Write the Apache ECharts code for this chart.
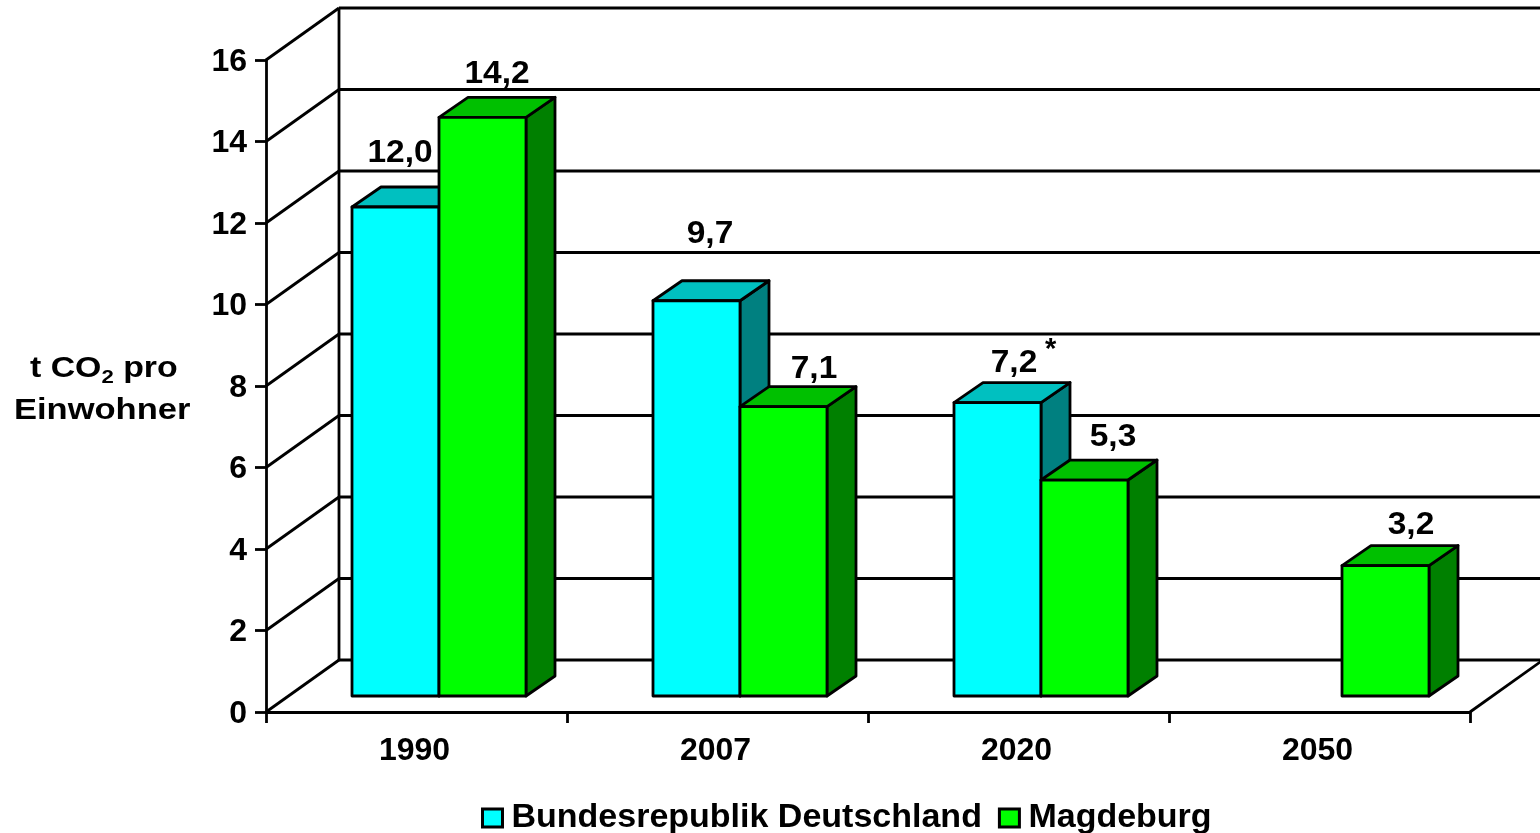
<!DOCTYPE html>
<html>
<head>
<meta charset="utf-8">
<style>html,body{margin:0;padding:0;background:#fff}#chart{width:1540px;height:833px}</style>
<script src="https://cdn.jsdelivr.net/npm/echarts@6/dist/echarts.min.js"></script>
</head>
<body>
<div id="chart"></div>
<script>
const years = ["1990", "2007", "2020", "2050"];
const deutschland = [12.0, 9.7, 7.2, null];
const magdeburg = [14.2, 7.1, 5.3, 3.2];
const yTicks = [0, 2, 4, 6, 8, 10, 12, 14, 16];
const deLabels = ["12,0", "9,7", "7,2", ""];
const mdLabels = ["14,2", "7,1", "5,3", "3,2"];

const font = "'Liberation Sans', Arial, sans-serif";
// depth of the fake 3d box, wall is 73/52 behind the axis plane
const wallX = 73, wallY = 52;
const barShiftX = 22.5, barShiftY = 16;
const sideX = 29, sideY = 20;
const barW = 87;
const stroke = 2.8;
// labels were placed by hand in the original, offset from bar's top left corner
const deNudge = [[48, -54], [57, -66], [60, -39], [0, 0]];
const mdNudge = [[58, -43], [74, -37], [72, -43], [69, -40]];

const chart = echarts.init(document.getElementById("chart"));

function wallItem(params, api) {
  const v = api.value(0);
  const p0 = api.coord([0, v]);
  const band = api.size([1, 0])[0];
  const left = p0[0] - band / 2;
  const right = left + band * years.length;
  const y = p0[1];
  const line = { stroke: "#000", lineWidth: stroke };
  const kids = [
    { type: "line", shape: { x1: left, y1: y, x2: left + wallX, y2: y - wallY }, style: line },
    { type: "line", shape: { x1: left + wallX, y1: y - wallY, x2: right + wallX, y2: y - wallY }, style: line }
  ];
  if (v === 0) {
    kids.push({ type: "line", shape: { x1: right, y1: y, x2: right + wallX, y2: y - wallY }, style: line });
  }
  if (v === 16) {
    kids.push({ type: "line", shape: { x1: left + wallX, y1: y - wallY, x2: left + wallX, y2: api.coord([0, 0])[1] - wallY }, style: line });
  }
  return { type: "group", children: kids };
}

// side: 0 = left bar of the pair, 1 = right bar
function barRenderer(side, front, top, right) {
  return function (params, api) {
    const val = api.value(1);
    if (val == null || isNaN(val)) return null;
    const c = api.coord([api.value(0), val]);
    const base = api.coord([api.value(0), 0])[1] - barShiftY;
    const x0 = c[0] + barShiftX - (side === 0 ? barW : 0);
    const x1 = x0 + barW;
    const y0 = c[1] - barShiftY;
    const edge = { stroke: "#000", lineWidth: stroke, lineJoin: "round" };
    return {
      type: "group",
      children: [
        { type: "polygon", shape: { points: [[x1, y0], [x1 + sideX, y0 - sideY], [x1 + sideX, base - sideY], [x1, base]] }, style: { fill: right, ...edge } },
        { type: "polygon", shape: { points: [[x0, y0], [x0 + sideX, y0 - sideY], [x1 + sideX, y0 - sideY], [x1, y0]] }, style: { fill: top, ...edge } },
        { type: "rect", shape: { x: x0, y: y0, width: barW, height: base - y0 }, style: { fill: front, ...edge } }
      ]
    };
  };
}

function labelRenderer(side, texts, nudge) {
  return function (params, api) {
    const idx = api.value(0);
    const val = api.value(1);
    if (val == null || isNaN(val) || !texts[idx]) return null;
    const c = api.coord([idx, val]);
    const x0 = c[0] + barShiftX - (side === 0 ? barW : 0);
    return {
      type: "text",
      x: x0 + nudge[idx][0],
      y: c[1] - barShiftY + nudge[idx][1],
      scaleX: 1.08,
      style: { text: texts[idx], font: "bold 31px " + font, fill: "#000", align: "center", verticalAlign: "middle" }
    };
  };
}

const idxData = arr => arr.map((v, i) => [i, v]);

chart.setOption({
  animation: false,
  grid: { left: 266, right: 70, top: 60, bottom: 121 },
  xAxis: {
    type: "category",
    data: years,
    axisLine: { lineStyle: { color: "#000", width: stroke } },
    axisTick: { show: true, alignWithLabel: false, length: 11, lineStyle: { color: "#000", width: stroke } },
    axisLabel: { color: "#000", fontFamily: font, fontWeight: "bold", fontSize: 32, margin: 23, padding: [0, 4, 0, 0] },
    splitLine: { show: false }
  },
  yAxis: {
    type: "value",
    min: 0,
    max: 16,
    interval: 2,
    axisLine: { show: true, lineStyle: { color: "#000", width: stroke } },
    axisTick: { show: true, length: 11, lineStyle: { color: "#000", width: stroke } },
    axisLabel: { color: "#000", fontFamily: font, fontWeight: "bold", fontSize: 32, margin: 19, verticalAlign: "top", padding: [-14, 0, 0, 0] },
    splitLine: { show: false }
  },
  legend: {
    top: 796,
    left: 476,
    itemWidth: 20,
    itemHeight: 18,
    itemGap: 16,
    textStyle: { color: "#000", fontFamily: font, fontWeight: "bold", fontSize: 34, padding: [0, 0, 0, 4] },
    data: [
      { name: "Bundesrepublik Deutschland", icon: "rect", itemStyle: { color: "#00ffff", borderColor: "#000", borderWidth: 3 } },
      { name: "Magdeburg", icon: "rect", itemStyle: { color: "#00ff00", borderColor: "#000", borderWidth: 3 } }
    ]
  },
  graphic: [
    {
      type: "text", x: 30, y: 350, scaleX: 1.167,
      style: {
        text: "t CO{sub|2} pro",
        font: "bold 29px " + font, fill: "#000",
        rich: { sub: { font: "bold 19px " + font, fill: "#000", verticalAlign: "bottom", padding: [18, 0, 0, 0] } }
      }
    },
    { type: "text", x: 14, y: 396, scaleX: 1.19, style: { text: "Einwohner", font: "bold 29px " + font, fill: "#000" } },
    { type: "text", x: 1045, y: 335, style: { text: "*", font: "bold 29px " + font, fill: "#000" } }
  ],
  series: [
    { type: "custom", name: "wall", silent: true, z: 1, clip: false, renderItem: wallItem, encode: { x: -1, y: 0 }, data: yTicks.map(v => [v]) },
    {
      type: "custom", name: "Bundesrepublik Deutschland", z: 3, clip: false,
      renderItem: barRenderer(0, "#00ffff", "#00c0c0", "#008080"),
      encode: { x: 0, y: 1 }, data: idxData(deutschland)
    },
    {
      type: "custom", name: "Magdeburg", z: 4, clip: false,
      renderItem: barRenderer(1, "#00ff00", "#00c000", "#008000"),
      encode: { x: 0, y: 1 }, data: idxData(magdeburg)
    },
    { type: "custom", silent: true, z: 5, clip: false, renderItem: labelRenderer(0, deLabels, deNudge), encode: { x: 0, y: 1 }, data: idxData(deutschland) },
    { type: "custom", silent: true, z: 5, clip: false, renderItem: labelRenderer(1, mdLabels, mdNudge), encode: { x: 0, y: 1 }, data: idxData(magdeburg) }
  ]
});

window.addEventListener("resize", () => chart.resize());
</script>
</body>
</html>
